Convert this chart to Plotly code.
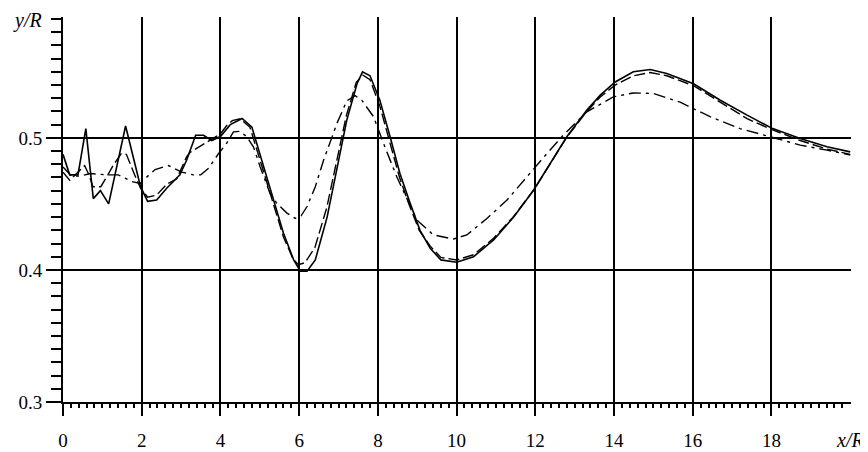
import plotly.graph_objects as go

# Solid curve
solid_x = [0, 0.17, 0.38, 0.58, 0.77, 0.95, 1.16, 1.59, 1.97, 2.15, 2.38, 2.64, 2.97, 3.14, 3.37, 3.57, 3.78, 4.0,
           4.25, 4.55, 4.8, 5.1, 5.35, 5.6, 5.86, 6.03, 6.2, 6.41, 6.71, 6.96, 7.21, 7.47, 7.61, 7.8, 8.05, 8.31,
           8.56, 8.82, 9.07, 9.33, 9.6, 10.0, 10.43, 10.94, 11.45, 11.96, 12.38, 12.8, 13.31, 13.65, 14.03, 14.49,
           14.92, 15.34, 16.02, 16.7, 17.38, 18.03, 18.73, 19.41, 20.0]
solid_y = [0.4875, 0.472, 0.472, 0.507, 0.454, 0.460, 0.450, 0.509, 0.463, 0.452, 0.453, 0.462, 0.472, 0.483, 0.502,
           0.502, 0.498, 0.501, 0.510, 0.5147, 0.508, 0.478, 0.453, 0.428, 0.4076, 0.399, 0.399, 0.4076, 0.440,
           0.4756, 0.5134, 0.541, 0.550, 0.547, 0.5285, 0.5008, 0.473, 0.4504, 0.430, 0.4164, 0.4076, 0.4058,
           0.410, 0.4227, 0.440, 0.4605, 0.4807, 0.5008, 0.521, 0.5323, 0.5423, 0.550, 0.5517, 0.5487, 0.541,
           0.5285, 0.5172, 0.507, 0.4995, 0.4932, 0.4894]

# Dashed curve
dash_x = [0, 0.17, 0.55, 0.66, 0.76, 0.96, 1.14, 1.27, 1.48, 1.61, 1.82, 1.97, 2.15, 2.38, 2.64, 2.89, 3.14, 3.23,
          3.53, 3.82, 4.0, 4.15, 4.3, 4.5, 4.75, 5.1, 5.35, 5.6, 5.85, 5.98, 6.15, 6.4, 6.7, 6.95, 7.2, 7.45, 7.62,
          7.8, 8.05, 8.3, 8.55, 8.8, 9.05, 9.33, 9.6, 10.0, 10.43, 10.94, 11.45, 11.96, 12.38, 12.8, 13.31, 13.65,
          14.03, 14.49, 14.92, 15.34, 16.02, 16.7, 17.38, 18.03, 18.73, 19.41, 20.0]
dash_y = [0.474, 0.468, 0.479, 0.472, 0.463, 0.463, 0.472, 0.479, 0.488, 0.4875, 0.472, 0.462, 0.455, 0.4567,
          0.465, 0.469, 0.4856, 0.489, 0.4945, 0.4995, 0.503, 0.509, 0.513, 0.5145, 0.508, 0.474, 0.449, 0.425,
          0.408, 0.404, 0.4055, 0.417, 0.447, 0.482, 0.517, 0.542, 0.5475, 0.544, 0.524, 0.497, 0.470, 0.449,
          0.430, 0.418, 0.4095, 0.4075, 0.4115, 0.424, 0.4405, 0.4605, 0.4805, 0.5005, 0.520, 0.531, 0.540,
          0.547, 0.5495, 0.547, 0.5395, 0.527, 0.5145, 0.506, 0.498, 0.4915, 0.4875]

# Dash-dot curve
dd_x = [0, 0.22, 0.43, 0.7, 1.1, 1.4, 1.74, 1.96, 2.08, 2.34, 2.68, 3.02, 3.31, 3.5, 3.7, 3.95, 4.16, 4.33, 4.5,
        4.67, 4.84, 5.01, 5.26, 5.43, 5.69, 5.9, 6.05, 6.2, 6.41, 6.62, 6.96, 7.21, 7.42, 7.59, 7.89, 8.14, 8.48,
        8.99, 9.41, 9.92, 10.26, 10.77, 11.28, 11.78, 12.29, 12.71, 13.31, 13.98, 14.49, 15.0, 15.68, 16.44, 17.2,
        18.03, 18.73, 19.41, 20.0]
dd_y = [0.478, 0.471, 0.471, 0.473, 0.472, 0.472, 0.467, 0.4655, 0.469, 0.476, 0.479, 0.474, 0.472, 0.472, 0.477,
        0.488, 0.496, 0.5045, 0.505, 0.5008, 0.493, 0.478, 0.458, 0.4504, 0.443, 0.439, 0.441, 0.448, 0.463,
        0.483, 0.511, 0.528, 0.532, 0.5285, 0.516, 0.496, 0.4705, 0.4378, 0.4265, 0.4234, 0.4265, 0.439, 0.4529,
        0.4705, 0.488, 0.502, 0.5197, 0.531, 0.534, 0.5336, 0.527, 0.516, 0.507, 0.5003, 0.4945, 0.4907, 0.487]

x_ticks = [0, 2, 4, 6, 8, 10, 12, 14, 16, 18]
x_ticklabels = ["0", "2", "4", "6", "8", "10", "12", "14", "16", "18"]
x_minor_ticks = [round(i * 0.2, 1) for i in range(100) if i % 10 != 0]
y_ticks = [0.3, 0.4, 0.5]
y_ticklabels = ["0.3", "0.4", "0.5"]

FONT = "'Times New Roman', 'Liberation Serif', Times, 'DejaVu Serif', serif"
X_RANGE = [0, 20.02]

fig = go.Figure()
fig.add_trace(go.Scatter(x=dd_x, y=dd_y, mode="lines",
                         line=dict(color="black", width=1.4, dash="12px,5px,3px,5px")))
fig.add_trace(go.Scatter(x=dash_x, y=dash_y, mode="lines",
                         line=dict(color="black", width=1.4, dash="11px,4px")))
fig.add_trace(go.Scatter(x=solid_x, y=solid_y, mode="lines",
                         line=dict(color="black", width=1.6)))
# invisible trace to carry the minor-tick overlay axis
fig.add_trace(go.Scatter(x=[X_RANGE[0]], y=[0.3], xaxis="x2", mode="markers",
                         marker=dict(opacity=0), hoverinfo="skip"))

# page body adds an 8px offset; compensate in figure size/margins
fig.update_layout(
    width=860, height=444,
    margin=dict(l=55, r=17, t=9, b=50, autoexpand=False),
    paper_bgcolor="white", plot_bgcolor="white",
    showlegend=False,
    font=dict(family=FONT, size=19, color="black"),
    xaxis=dict(
        range=X_RANGE, tickmode="array", tickvals=x_ticks, ticktext=x_ticklabels,
        showgrid=True, gridcolor="black", gridwidth=1.6,
        showline=True, linecolor="black", linewidth=2,
        ticks="outside", ticklen=12, tickwidth=2, tickcolor="black",
        ticklabelstandoff=8, automargin=False,
        zeroline=False,
        tickfont=dict(family=FONT, size=19),
    ),
    xaxis2=dict(
        range=X_RANGE, overlaying="x", anchor="y", side="bottom",
        tickmode="array", tickvals=x_minor_ticks, showticklabels=False,
        ticks="outside", ticklen=5, tickwidth=1.5, tickcolor="black",
        showgrid=False, showline=False, zeroline=False, automargin=False,
    ),
    yaxis=dict(
        range=[0.3, 0.5915], tickmode="array", tickvals=y_ticks, ticktext=y_ticklabels,
        showgrid=True, gridcolor="black", gridwidth=1.6,
        showline=True, linecolor="black", linewidth=2,
        ticks="outside", ticklen=15, tickwidth=2, tickcolor="black",
        zeroline=False, automargin=False,
        minor=dict(tickmode="linear", tick0=0.3, dtick=0.01, ticks="outside", ticklen=10,
                   tickwidth=2, tickcolor="black", showgrid=False),
        tickfont=dict(family=FONT, size=19),
    ),
    annotations=[
        dict(text="<i>x/R</i>", xref="x", yref="paper", x=20.0, y=0, yshift=-38,
             xanchor="center", yanchor="middle", showarrow=False,
             font=dict(family=FONT, size=20)),
        dict(text="<i>y/R</i>", xref="paper", yref="paper", x=0, y=1, xshift=-19, yshift=-3,
             xanchor="right", yanchor="middle", showarrow=False,
             font=dict(family=FONT, size=20)),
    ],
)

fig.write_html("out.html")
